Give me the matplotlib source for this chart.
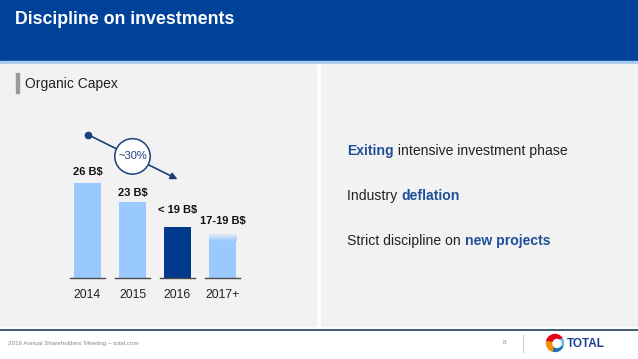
import numpy as np
import matplotlib
matplotlib.use("Agg")
import matplotlib.pyplot as plt
from matplotlib.patches import Rectangle, Wedge, Circle

plt.rcParams['font.family'] = ['Liberation Sans', 'DejaVu Sans']

# data
years = ["2014", "2015", "2016", "2017+"]
capex = [26, 23, 19, 18]
value_labels = ["26 B$", "23 B$", "< 19 B$", "17-19 B$"]
bullets = [
    [("Exiting", True), (" intensive investment phase", False)],
    [("Industry ", False), ("deflation", True)],
    [("Strict discipline on ", False), ("new projects", True)],
]

HEADER = "#00419a"
LIGHT = "#99c9ff"
DARK = "#003a8c"
TXTBLUE = "#1f4f99"
PANEL = "#f2f2f2"

W, H = 638, 359
fig = plt.figure(figsize=(W / 100, H / 100), dpi=100)

# background layer in pixel coordinates
bg = fig.add_axes([0, 0, 1, 1])
bg.set_xlim(0, W)
bg.set_ylim(H, 0)
bg.axis("off")
bg.add_patch(Rectangle((0, 0), W, 61, color=HEADER))
bg.add_patch(Rectangle((0, 61), W, 1.5, color="#a8cdf0"))
bg.add_patch(Rectangle((0, 65), 316, 261, color=PANEL))
bg.add_patch(Rectangle((321, 65), W - 321, 261, color=PANEL))
bg.plot([0, W], [330, 330], color="#1d3e5c", lw=1.2)
bg.text(15, 20, "Discipline on investments", color="white", fontsize=12.8,
        fontweight="bold", va="center", ha="left")

bg.add_patch(Rectangle((16, 73), 2.5, 20, color="#9a9a9a"))
bg.text(25, 84, "Organic Capex", fontsize=10, va="center", color="#222222")

# right-hand bullet lines
for i, parts in enumerate(bullets):
    y = 151 + i * 45
    t = None
    for txt, bold in parts:
        kw = dict(fontsize=10.1, va="center", ha="left",
                  color=TXTBLUE if bold else "#222222",
                  fontweight="bold" if bold else "normal")
        if t is None:
            t = bg.text(347, y, txt, **kw)
        else:
            t = bg.annotate(txt, xycoords=t, xy=(1, 0.5), **kw)

# footer
bg.text(8, 344, "2016 Annual Shareholders\u2019 Meeting \u2013 total.com", fontsize=4.5,
        color="#8a8a8a", va="center")
bg.text(503, 343, "8", fontsize=4.6, color="#8a8a8a", va="center")
bg.plot([523, 523], [335, 352], color="#cccccc", lw=0.8)
cx, cy, r = 555, 343, 8.5
bg.add_patch(Wedge((cx, cy), r, 190, 330, color="#e3001b"))
bg.add_patch(Wedge((cx, cy), r, 100, 190, color="#f39200"))
bg.add_patch(Wedge((cx, cy), r, 20, 100, color="#1f6fb5"))
bg.add_patch(Wedge((cx, cy), r, 330, 20, color="#6fb7e0"))
bg.add_patch(Circle((cx + 2, cy + 0.5), 4, color="white"))
bg.text(567, 344, "TOTAL", fontsize=8.5, fontweight="bold", color="#1c3f94",
        va="center")

# bar chart
px_per_unit = 19 / 3
ymin = 11
ax_left, ax_right = 65, 245
ax_bot, ax_top = 278, 110
ax = fig.add_axes([ax_left / W, (H - ax_bot) / H, (ax_right - ax_left) / W,
                   (ax_bot - ax_top) / H])
ax.set_xlim(-0.5, 3.5)
ax.set_ylim(ymin, ymin + (ax_bot - ax_top) / px_per_unit)
ax.patch.set_alpha(0)
ax.axis("off")

x = np.arange(len(years))
colors = [LIGHT, LIGHT, DARK, LIGHT]
bw = 0.62
bars = ax.bar(x[:3], [v - ymin for v in capex[:3]], bottom=ymin, width=bw,
              color=colors[:3], zorder=2)

# last bar fades out at the top
top = capex[3]
fade = 1.2
ax.bar(x[3], top - fade - ymin, bottom=ymin, width=bw, color=LIGHT, zorder=2)
grad = np.zeros((50, 1, 4))
grad[..., :3] = matplotlib.colors.to_rgb(LIGHT)
grad[:, 0, 3] = np.linspace(1, 0, 50)
ax.imshow(grad, extent=(x[3] - bw / 2, x[3] + bw / 2, top - fade, top),
          origin="lower", aspect="auto", zorder=2, interpolation="bilinear")
ax.set_xlim(-0.5, 3.5)
ax.set_ylim(ymin, ymin + (ax_bot - ax_top) / px_per_unit)

for xi in x:
    ax.plot([xi - 0.39, xi + 0.39], [ymin, ymin], color="#4a4a4a", lw=1,
            clip_on=False, zorder=3)
    ax.text(xi, ymin - 2.7, years[xi], ha="center", va="center", fontsize=8.8,
            color="#222222")

offsets = [11, 9, 17, 13]
for xi, v, lab, off in zip(x, capex, value_labels, offsets):
    ax.annotate(lab, (xi, v), xytext=(0, off * 0.72), textcoords="offset points",
                ha="center", va="center", fontsize=8, fontweight="bold",
                color="#111111")

# trend arrow and ~30% bubble
ax.annotate("", xy=(2.0, 26.6), xytext=(0.02, 33.6),
            arrowprops=dict(arrowstyle="-|>", color="#1d3f7a", lw=1.2,
                            mutation_scale=10, shrinkA=0, shrinkB=0))
ax.plot(0.02, 33.6, "o", color="#1d3f7a", ms=4.5)
ax.text(1.0, 30.2, "~30%", ha="center", va="center", fontsize=8, color="#1d3f7a",
        bbox=dict(boxstyle="circle,pad=0.3", fc="white", ec="#1d3f7a", lw=1.1),
        zorder=5)

fig.savefig("out.png", dpi=100)
